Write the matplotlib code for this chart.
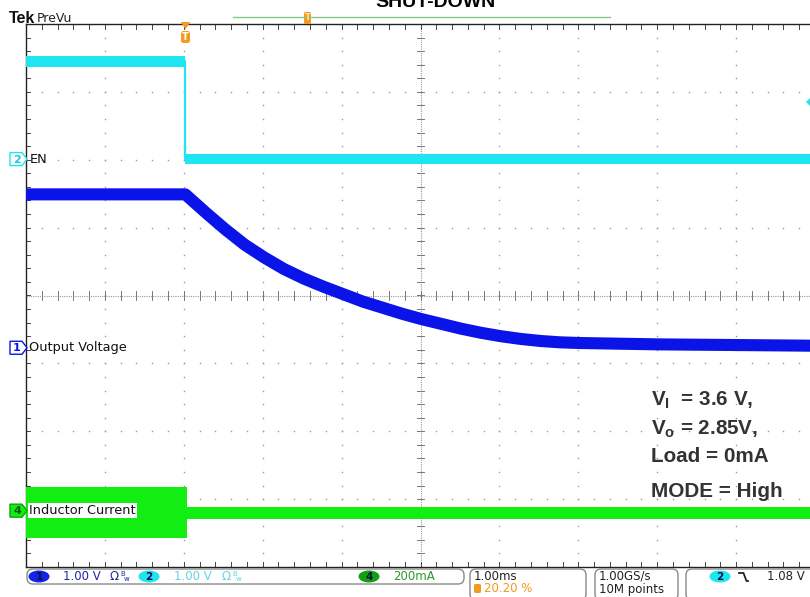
import numpy as np
import matplotlib
matplotlib.use("Agg")
import matplotlib.pyplot as plt
from matplotlib import transforms
from matplotlib.patches import FancyBboxPatch, Polygon, Ellipse
from matplotlib.lines import Line2D

plt.rcParams["mathtext.fontset"] = "custom"
plt.rcParams["mathtext.rm"] = "Liberation Sans:bold"
plt.rcParams["mathtext.it"] = "Liberation Sans:bold"
plt.rcParams["mathtext.bf"] = "Liberation Sans:bold"
plt.rcParams["mathtext.default"] = "rm"

# ---------------- data ----------------
t_start, t_end = -2.02, 7.98          # ms (1 ms/div, trigger at 20.20 %)
n_hdiv, n_vdiv = 10, 8

# channel 2 : EN (V), 1 V/div
en_t = [-2.02, 0.0, 0.0, 7.98]
en_v = [1.44, 1.44, 0.0, 0.0]
en_offset = 2.01
en_scale = 1.0
trig_level = 0.84

# channel 1 : output voltage (V), 1 V/div
vo_t = [-2.02, 0.0, 0.25, 0.5, 0.75, 1.0, 1.25, 1.5, 1.75, 2.0, 2.25, 2.5,
        2.75, 3.0, 3.25, 3.5, 3.75, 4.0, 4.25, 4.5, 4.75, 5.0, 5.5, 6.0, 7.0, 7.98]
vo_v = [2.26, 2.26, 2.00, 1.75, 1.52, 1.33, 1.16, 1.02, 0.90, 0.79, 0.68, 0.59,
        0.50, 0.42, 0.35, 0.28, 0.22, 0.17, 0.13, 0.10, 0.08, 0.07, 0.06, 0.05, 0.04, 0.03]
vo_offset = -0.77
vo_scale = 1.0

# channel 4 : inductor current envelope (mA), 200 mA/div
il_t = [-2.02, 0.025, 0.025, 7.98]
il_upper = [70, 70, 12, 12]
il_lower = [-80, -80, -24, -24]
il_offset = -3.17
il_scale = 200.0

title = "SHUT-DOWN"
ch_labels = ["EN", "Output Voltage", "Inductor Current"]
note_lines = ["$V_I$  = 3.6 V,", "$V_o$ = 2.85V,", "Load = 0mA", "MODE = High"]

# ---------------- figure ----------------
W, H, DPI = 810, 597, 100
fig = plt.figure(figsize=(W / DPI, H / DPI), dpi=DPI)
fig.patch.set_facecolor("white")
# pixel transform with origin at top-left
pix = transforms.Affine2D().scale(1, -1).translate(0, H).scale(1.0 / DPI) + fig.dpi_scale_trans

ax = fig.add_axes([26 / W, 30 / H, 789 / W, 543 / H])
ax.set_xlim(t_start, t_end)
ax.set_ylim(-n_vdiv / 2, n_vdiv / 2)
ax.set_xticks([])
ax.set_yticks([])
for s in ["top", "left", "bottom"]:
    ax.spines[s].set_color("#222222")
    ax.spines[s].set_linewidth(1.0)
ax.spines["right"].set_visible(False)

gray = "#9a9a9a"
minor_x = t_start + np.arange(0, n_hdiv + 0.001, 0.2)
minor_y = np.arange(-n_vdiv / 2, n_vdiv / 2 + 0.001, 0.2)
xc = t_start + n_hdiv / 2
# dotted graticule
for k in range(1, n_hdiv):
    if k == n_hdiv // 2:
        continue
    ax.plot(np.full_like(minor_y, t_start + k), minor_y, ls="", marker="s", ms=1.0,
            color=gray, mew=0, zorder=1)
for j in range(-3, 4):
    if j == 0:
        continue
    ax.plot(minor_x, np.full_like(minor_x, j), ls="", marker="s", ms=1.0,
            color=gray, mew=0, zorder=1)
# centre lines
ax.axhline(0, ls=(0, (1, 1)), color=gray, lw=0.8, zorder=1)
ax.axvline(xc, ls=(0, (1, 1)), color=gray, lw=0.8, zorder=1)
for x in minor_x:
    ax.plot([x, x], [-0.06, 0.06], color="#777777", lw=0.7, zorder=1)
    ax.plot([x, x], [4, 3.93], color="#444444", lw=0.7, zorder=1)
    ax.plot([x, x], [-4, -3.93], color="#444444", lw=0.7, zorder=1)
for y in minor_y:
    ax.plot([xc - 0.05, xc + 0.05], [y, y], color="#777777", lw=0.7, zorder=1)
    ax.plot([t_start, t_start + 0.05], [y, y], color="#444444", lw=0.7, zorder=1)

# ---------------- traces ----------------
cyan = "#1fe4f2"
blue = "#0a14e8"
green = "#12ee12"

en_y = en_offset + np.array(en_v) / en_scale
ax.plot(en_t, en_y, color=cyan, lw=1.6, zorder=3)
ax.fill_between(en_t, en_y - 0.078, en_y + 0.078, color=cyan, lw=0, zorder=3)

vo_y = vo_offset + np.array(vo_v) / vo_scale
ax.plot(vo_t, vo_y, color=blue, lw=8.7, solid_capstyle="butt", solid_joinstyle="round", zorder=4)

il_up = il_offset + np.array(il_upper) / il_scale
il_lo = il_offset + np.array(il_lower) / il_scale
ax.fill_between(il_t, il_lo, il_up, color=green, lw=0, zorder=3)

# trigger level marker on right edge
ax.plot([t_end - 0.03], [en_offset + trig_level / en_scale], marker="D", ms=7,
        color=cyan, mew=0, clip_on=False, zorder=5)

# channel labels inside the graticule
ytr = ax.get_yaxis_transform()
lab_kw = dict(transform=ytr, fontsize=9.3, va="center", ha="left", color="#111111",
              family="DejaVu Sans", zorder=6)
ax.text(4 / 789, en_offset, ch_labels[0], **lab_kw)
ax.text(3 / 789, vo_offset, ch_labels[1], **lab_kw)
ax.text(3 / 789, il_offset, ch_labels[2],
        bbox=dict(boxstyle="square,pad=0.1", fc="white", ec="none"), **lab_kw)

# channel ground markers left of graticule
def ch_marker(offset, num, edge, face, txtcol):
    _, yd = ax.transData.transform((t_start, offset))
    ypx = H - yd
    pts = [(10, ypx - 6.5), (22, ypx - 6.5), (27, ypx), (22, ypx + 6.5), (10, ypx + 6.5)]
    fig.add_artist(Polygon(pts, closed=True, transform=pix, fc=face, ec=edge, lw=1.0))
    fig.text(17, ypx + 0.5, num, transform=pix, ha="center", va="center",
             fontsize=8, color=txtcol, family="DejaVu Sans", fontweight="bold")

ch_marker(en_offset, "2", cyan, "white", "#20c8d8")
ch_marker(vo_offset, "1", blue, "white", blue)
ch_marker(il_offset, "4", "#10a010", green, "#0b5a0b")

# ---------------- annotations ----------------
note_base = [406, 435, 462, 497]
for line, yb in zip(note_lines, note_base):
    fig.text(651, yb, line, transform=pix, fontsize=14.9, fontweight="bold",
             family="Liberation Sans", color="#333333", ha="left", va="baseline")

fig.text(436, 7, title, transform=pix, fontsize=14, fontweight="bold",
         family="Liberation Sans", color="black", ha="center", va="baseline")

# Tek logo
fig.text(9, 23, "Tek", transform=pix, fontsize=11.5, fontweight="bold",
         family="Liberation Sans", color="#111111", ha="left", va="baseline")
fig.text(37, 22, "PreVu", transform=pix, fontsize=9, family="DejaVu Sans",
         color="#222222", ha="left", va="baseline")

# record view bar
fig.add_artist(Line2D([233, 610], [16.5, 16.5], transform=pix, color="#86c986", lw=1.0))
orange = "#f29b1d"
fig.add_artist(FancyBboxPatch((304, 12), 7, 12, boxstyle="round,pad=0,rounding_size=1.5",
                              transform=pix, fc=orange, ec="none"))
fig.text(307.5, 18, "T", transform=pix, fontsize=6, color="#ffe2a8", ha="center",
         va="center", fontweight="bold")

# trigger position marker
fig.add_artist(Polygon([(180.5, 22), (190.5, 22), (185.5, 29)], closed=True, transform=pix,
                       fc=orange, ec="none", zorder=10))
fig.add_artist(FancyBboxPatch((181, 31), 9, 12, boxstyle="round,pad=0,rounding_size=2.5",
                              transform=pix, fc=orange, ec="none"))
fig.text(185.5, 37, "T", transform=pix, fontsize=7, color="white", ha="center",
         va="center", fontweight="bold")

# ---------------- status bar ----------------
box_ec = "#8a8a8a"
def sbox(x0, y0, x1, y1):
    fig.add_artist(FancyBboxPatch((x0, y0), x1 - x0, y1 - y0,
                                  boxstyle="round,pad=0,rounding_size=6",
                                  transform=pix, fc="white", ec=box_ec, lw=1.0))

sbox(27, 569, 464, 584)
sbox(470, 569, 586, 600)
sbox(595, 569, 678, 600)
sbox(686, 569, 830, 600)

def badge(cx, num, face):
    fig.add_artist(Ellipse((cx, 576.5), 21, 12, transform=pix, fc=face, ec="none"))
    fig.text(cx, 577, num, transform=pix, fontsize=7.5, fontweight="bold", color="#101040",
             ha="center", va="center", family="DejaVu Sans")

sfont = dict(transform=pix, fontsize=8.5, family="DejaVu Sans", va="center", ha="left")
badge(39, "1", "#1424e6")
fig.text(63, 577, "1.00 V", color="#2424a8", **sfont)
fig.text(110, 577, "Ω", color="#2424a8", **sfont)
fig.text(120, 574, "B", color="#2424a8", transform=pix, fontsize=5, family="DejaVu Sans", va="center")
fig.text(124, 579, "w", color="#2424a8", transform=pix, fontsize=5, family="DejaVu Sans", va="center")
badge(149, "2", cyan)
fig.text(174, 577, "1.00 V", color="#5fd6e4", **sfont)
fig.text(222, 577, "Ω", color="#5fd6e4", **sfont)
fig.text(232, 574, "B", color="#5fd6e4", transform=pix, fontsize=5, family="DejaVu Sans", va="center")
fig.text(236, 579, "w", color="#5fd6e4", transform=pix, fontsize=5, family="DejaVu Sans", va="center")
badge(369, "4", "#12a012")
fig.text(393, 577, "200mA", color="#2a9a2a", **sfont)

fig.text(474, 576, "1.00ms", color="#222222", **sfont)
fig.add_artist(FancyBboxPatch((474, 584), 7, 9, boxstyle="round,pad=0,rounding_size=1.5",
                              transform=pix, fc=orange, ec="none"))
fig.text(484, 589, "20.20 %", color=orange, **sfont)

fig.text(599, 576, "1.00GS/s", color="#222222", **sfont)
fig.text(599, 589, "10M points", color="#222222", **sfont)

badge(720, "2", cyan)
fig.add_artist(Line2D([739, 743.5, 746.5, 748], [573, 573, 581, 581], transform=pix,
                      color="#222222", lw=1.3))
fig.text(767, 577, "1.08 V", color="#222222", **sfont)

fig.savefig("out.png", dpi=DPI, facecolor="white")
